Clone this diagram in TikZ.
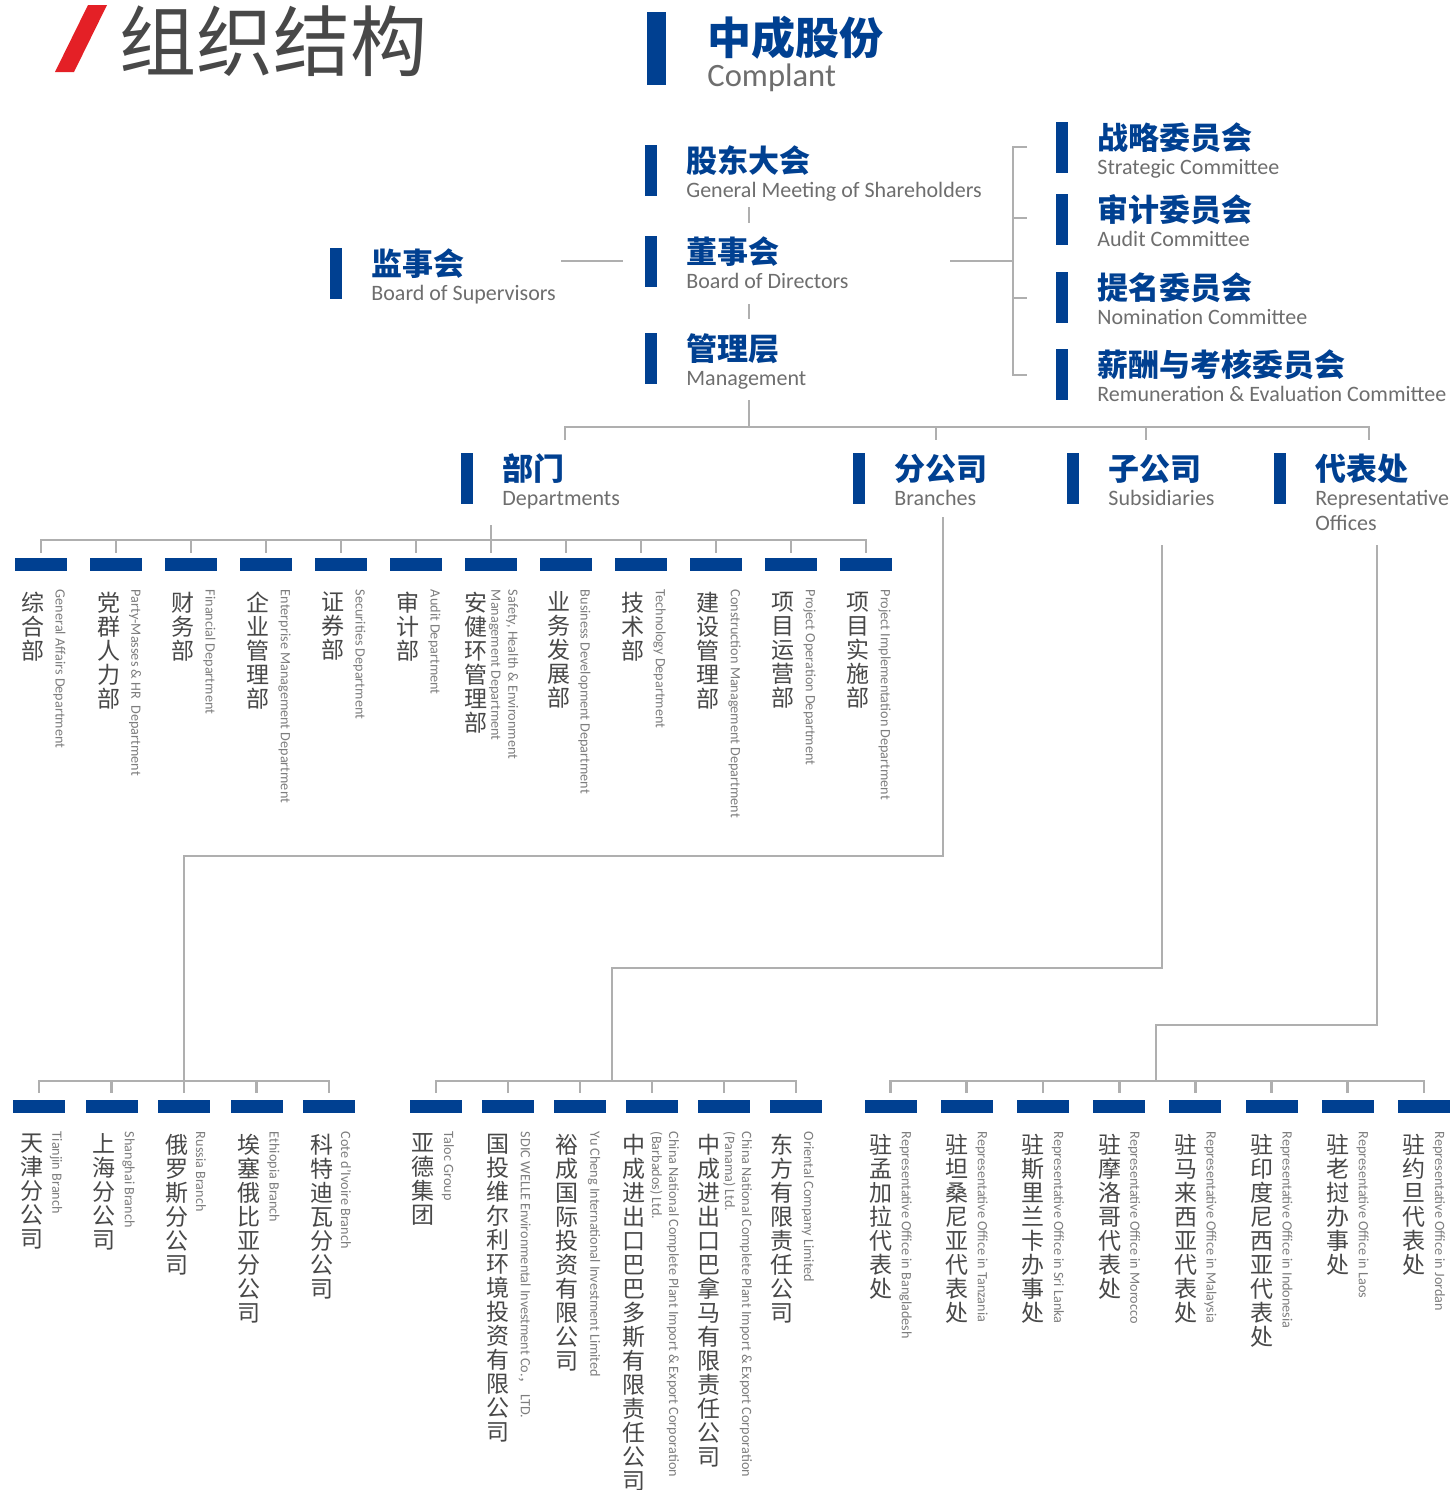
\documentclass[tikz,border=0pt]{standalone}
\usepackage{fontspec}
\setmainfont{Carlito}
\newfontfamily\cjk{Noto Sans CJK SC}
\XeTeXlinebreaklocale "zh"
\XeTeXlinebreakskip=0pt plus 1pt

\definecolor{zcblue}{RGB}{0,64,145}
\definecolor{zcred}{RGB}{228,32,38}
\definecolor{zcline}{RGB}{175,175,175}
\definecolor{zcdark}{RGB}{72,72,72}
\definecolor{zcgray}{RGB}{110,110,110}
\definecolor{zclight}{RGB}{125,125,125}

\tikzset{
  conn/.style={draw=zcline, line width=1.4pt},
  headcn/.style={anchor=base west, inner sep=0pt, text=zcblue,
    font=\cjk\bfseries\fontsize{15.5}{18}\selectfont},
  headen/.style={anchor=base west, inner sep=0pt, text=zcgray,
    font=\fontsize{11}{12.5}\selectfont},
  leafbox/.style={rectangle, fill=zcblue, inner sep=0pt,
    minimum width=26pt, minimum height=6.5pt},
  leafcn/.style={anchor=north, inner sep=0pt, text=zcdark, text width=12pt,
    align=center, font=\cjk\fontsize{11.5}{12}\selectfont},
  leafen/.style={anchor=west, inner sep=0pt, rotate=-90, text=zclight,
    align=left, font=\fontsize{7.1}{8.5}\selectfont},
}

% heading: name, bar x, bar top, chinese, english
\newcommand{\head}[5]{%
  \fill[zcblue] (#2,#3) rectangle ++(12,51);
  \node[headcn] (#1) at ({#2+41},{#3+27}) {#4};
  \node[headen] (#1-en) at ({#2+41},{#3+52}) {#5};
}
% leaf: name, box x, box y, chinese offset, english offset, chinese, english
\newcommand{\leaf}[7]{%
  \node[leafbox] (#1) at (#2,#3) {};
  \node[leafcn] (#1-cn) at ({#2+(#4)},{#3+27}) {#6};
  \node[leafen] (#1-en) at ({#2+(#5)},{#3+25}) {#7};
}

\begin{document}
\begin{tikzpicture}[x=0.5pt, y=-0.5pt]

  \fill[white] (0,0) rectangle (1452,1490);
  \useasboundingbox (0,0) rectangle (1452,1490);

  % title
  \fill[zcred] (88,5) -- (107,5) -- (74,72) -- (55,72) -- cycle;
  \node[anchor=base west, inner sep=0pt, text=zcdark,
    font=\cjk\fontsize{38.5}{40}\selectfont] (title) at (119,70) {组织结构};

  \fill[zcblue] (647,12) rectangle (666,85);
  \node[anchor=base west, inner sep=0pt, text=zcblue,
    font=\cjk\bfseries\fontsize{22}{24}\selectfont] (zc) at (707,54) {中成股份};
  \node[anchor=base west, inner sep=0pt, text=zcgray,
    font=\fontsize{16.3}{18}\selectfont] (zc-en) at (707,86) {Complant};

  % governance
  \head{gm}{645}{145}{股东大会}{General Meeting of Shareholders}
  \head{bod}{645}{236}{董事会}{Board of Directors}
  \head{mg}{645}{333}{管理层}{Management}
  \head{bos}{330}{248}{监事会}{Board of Supervisors}

  \head{sc}{1056}{122}{战略委员会}{Strategic Committee}
  \head{ac}{1056}{194}{审计委员会}{Audit Committee}
  \head{nc}{1056}{272}{提名委员会}{Nomination Committee}
  \head{rc}{1056}{349}{薪酬与考核委员会}{Remuneration \& Evaluation Committee}

  \head{dep}{461}{453}{部门}{Departments}
  \head{br}{853}{453}{分公司}{Branches}
  \head{sub}{1067}{453}{子公司}{Subsidiaries}
  \head{rep}{1274}{453}{代表处}{Representative}
  \node[headen] (rep-en2) at (1315,530) {Offices};

  \coordinate (gm-s) at (749,207);
  \coordinate (bod-n) at (749,223);
  \coordinate (bod-s) at (749,304);
  \coordinate (mg-n) at (749,319);
  \coordinate (mg-s) at (749,400);
  \coordinate (top-bus) at (749,427);
  \coordinate (bos-e) at (561,261);
  \coordinate (bod-w) at (623,261);
  \coordinate (bod-e) at (950,261);
  \coordinate (com-bus) at (1013,261);

  \draw[conn] (gm-s) -- (bod-n);
  \draw[conn] (bod-s) -- (mg-n);
  \draw[conn] (bos-e) -- (bod-w);
  \draw[conn] (bod-e) -- (com-bus);
  \draw[conn] (1027,147) -| (com-bus) |- (1027,375);
  \draw[conn] (com-bus |- 0,218) -- (1027,218);
  \draw[conn] (com-bus |- 0,298) -- (1027,298);

  \draw[conn] (mg-s) -- (top-bus);
  \draw[conn] (565,440) |- (top-bus) -| (1369,440);
  \draw[conn] (936,427) -- (936,440);
  \draw[conn] (1146,427) -- (1146,440);

  % departments
  \leaf{d1}{41}{564.5}{-8}{18.5}{综合部}{General Affairs Department}
  \leaf{d2}{116}{564.5}{-7}{19}{党群人力部}{Party-Masses \& HR~ Department}
  \leaf{d3}{191}{564.5}{-8}{18.5}{财务部}{Financial Department}
  \leaf{d4}{266}{564.5}{-8}{18.5}{企业管理部}{Enterprise Management Department}
  \leaf{d5}{341}{564.5}{-8}{18.5}{证券部}{Securities Department}
  \leaf{d6}{416}{564.5}{-8}{18.5}{审计部}{Audit Department}
  \leaf{d7}{491}{564.5}{-15}{12.5}{安健环管理部}{Safety, Health \& Environment\\Management Department}
  \leaf{d8}{566}{564.5}{-7}{18.5}{业务发展部}{Business Development Department}
  \leaf{d9}{641}{564.5}{-8}{18.5}{技术部}{Technology Department}
  \leaf{d10}{716}{564.5}{-8}{18.5}{建设管理部}{Construction Management Department}
  \leaf{d11}{791}{564.5}{-8}{18.5}{项目运营部}{Project Operation Department}
  \leaf{d12}{866}{564.5}{-8}{18.5}{项目实施部}{Project Implementation Department}

  \coordinate (dep-top) at (491,525);
  \coordinate (dep-bus) at (491,540);
  \draw[conn] (dep-top) -- (dep-bus);
  \draw[conn] ([yshift=2.5pt]d1.north) |- (dep-bus) -| ([yshift=2.5pt]d12.north);
  \foreach \i in {2,...,11}
    \draw[conn] ([yshift=2.5pt]d\i.north) -- (d\i.north |- dep-bus);

  % branches
  \leaf{b1}{39}{1106.5}{-7.5}{17}{天津分公司}{Tianjin Branch}
  \leaf{b2}{111.5}{1106.5}{-7.5}{17}{上海分公司}{Shanghai Branch}
  \leaf{b3}{184}{1106.5}{-7.5}{17}{俄罗斯分公司}{Russia Branch}
  \leaf{b4}{256.5}{1106.5}{-7.5}{17}{埃塞俄比亚分公司}{Ethiopia Branch}
  \leaf{b5}{329}{1106.5}{-7.5}{17}{科特迪瓦分公司}{Cote d'Ivoire Branch}

  \coordinate (br-top) at (943,517);
  \coordinate (br-turn) at (184,856);
  \coordinate (br-bus) at (184,1081);
  \draw[conn] (br-top) |- (br-turn) -- (br-bus);
  \draw[conn] ([yshift=3.5pt]b1.north) |- (br-bus) -| ([yshift=3.5pt]b5.north);
  \foreach \i in {2,3,4}
    \draw[conn] ([yshift=3.5pt]b\i.north) -- (b\i.north |- br-bus);

  % subsidiaries
  \leaf{s1}{436}{1106.5}{-13}{12}{亚德集团}{Taloc Group}
  \leaf{s2}{508}{1106.5}{-10}{17}{国投维尔利环境投资有限公司}{SDIC WELLE Environmental Investment Co.{\cjk ，} LTD.}
  \leaf{s3}{580}{1106.5}{-13}{14}{裕成国际投资有限公司}{Yu Cheng International Investment Limited}
  \leaf{s4}{652}{1106.5}{-18}{12.5}{中成进出口巴巴多斯有限责任公司}{China National Complete Plant Import \& Export Corporation\\(Barbados) Ltd.}
  \leaf{s5}{724}{1106.5}{-15}{13.5}{中成进出口巴拿马有限责任公司}{China National Complete Plant Import \& Export Corporation\\(Panama) Ltd.}
  \leaf{s6}{796}{1106.5}{-14}{12}{东方有限责任公司}{Oriental Company Limited}

  \coordinate (sub-top) at (1162,545);
  \coordinate (sub-turn) at (612,968);
  \coordinate (sub-bus) at (612,1081);
  \draw[conn] (sub-top) |- (sub-turn) -- (sub-bus);
  \draw[conn] ([yshift=3.5pt]s1.north) |- (sub-bus) -| ([yshift=3.5pt]s6.north);
  \foreach \i in {2,...,5}
    \draw[conn] ([yshift=3.5pt]s\i.north) -- (s\i.north |- sub-bus);

  % representative offices
  \leaf{r1}{890.5}{1106.5}{-9.5}{15}{驻孟加拉代表处}{Representative Office in Bangladesh}
  \leaf{r2}{966.7}{1106.5}{-9.5}{15}{驻坦桑尼亚代表处}{Representative Office in Tanzania}
  \leaf{r3}{1042.9}{1106.5}{-9.5}{15}{驻斯里兰卡办事处}{Representative Office in Sri Lanka}
  \leaf{r4}{1119.1}{1106.5}{-9.5}{15}{驻摩洛哥代表处}{Representative Office in Morocco}
  \leaf{r5}{1195.3}{1106.5}{-9.5}{15}{驻马来西亚代表处}{Representative Office in Malaysia}
  \leaf{r6}{1271.5}{1106.5}{-9.5}{15}{驻印度尼西亚代表处}{Representative Office in Indonesia}
  \leaf{r7}{1347.7}{1106.5}{-9.5}{15}{驻老挝办事处}{Representative Office in Laos}
  \leaf{r8}{1423.9}{1106.5}{-9.5}{15}{驻约旦代表处}{Representative Office in Jordan}

  \coordinate (rep-top) at (1377,545);
  \coordinate (rep-turn) at (1156,1025);
  \coordinate (rep-bus) at (1156,1081);
  \draw[conn] (rep-top) |- (rep-turn) -- (rep-bus);
  \draw[conn] ([yshift=3.5pt]r1.north) |- (rep-bus) -| ([yshift=3.5pt]r8.north);
  \foreach \i in {2,...,7}
    \draw[conn] ([yshift=3.5pt]r\i.north) -- (r\i.north |- rep-bus);

\end{tikzpicture}
\end{document}
